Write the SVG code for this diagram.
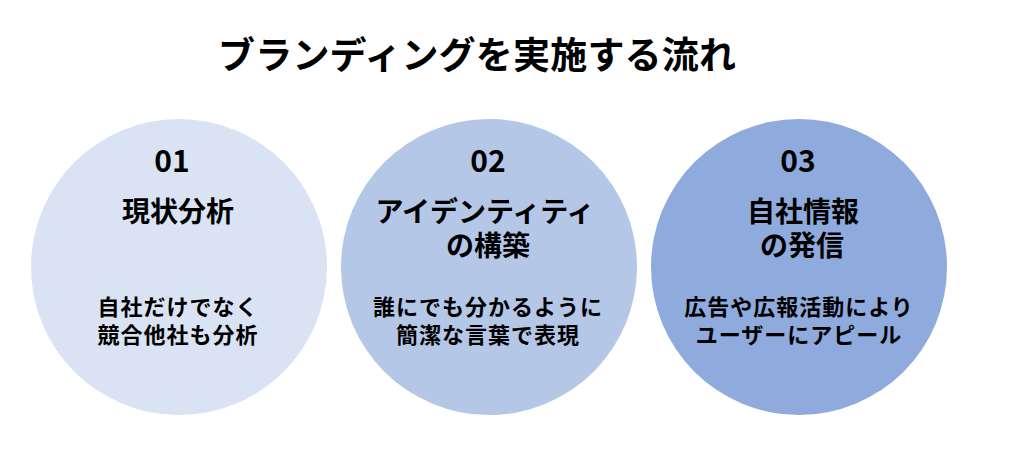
<svg xmlns="http://www.w3.org/2000/svg" width="1013" height="466" viewBox="0 0 1013 466">
<style>
text{font-family:"Noto Sans CJK JP","Noto Sans",sans-serif;font-weight:bold;fill:#000;text-anchor:middle}
.title{font-size:37px}
.num{font-size:30px}
.head{font-size:28px}
.sub{font-size:22px;letter-spacing:1px}
</style>
<rect width="1013" height="466" fill="#fff"/>
<text class="title" x="477" y="69" textLength="518" lengthAdjust="spacing">ブランディングを実施する流れ</text>
<g id="step1">
<circle cx="179" cy="267" r="148" fill="#DAE3F3"/>
<text class="num" x="172" y="172">01</text>
<text class="head" x="178" y="222">現状分析</text>
<text class="sub" x="178" y="315">自社だけでなく</text>
<text class="sub" x="178" y="343">競合他社も分析</text>
</g>
<g id="step2">
<circle cx="489" cy="267" r="148" fill="#B4C7E7"/>
<text class="num" x="488" y="172">02</text>
<text class="head" x="485" y="222">アイデンティティ</text>
<text class="head" x="488" y="256">の構築</text>
<text class="sub" x="488" y="315">誰にでも分かるように</text>
<text class="sub" x="488" y="343">簡潔な言葉で表現</text>
</g>
<g id="step3">
<circle cx="799" cy="267" r="148" fill="#8FAADC"/>
<text class="num" x="798" y="172">03</text>
<text class="head" x="803" y="222">自社情報</text>
<text class="head" x="802" y="256">の発信</text>
<text class="sub" x="799" y="315">広告や広報活動により</text>
<text class="sub" x="799" y="343">ユーザーにアピール</text>
</g>
<g id="connectors"></g>
</svg>
